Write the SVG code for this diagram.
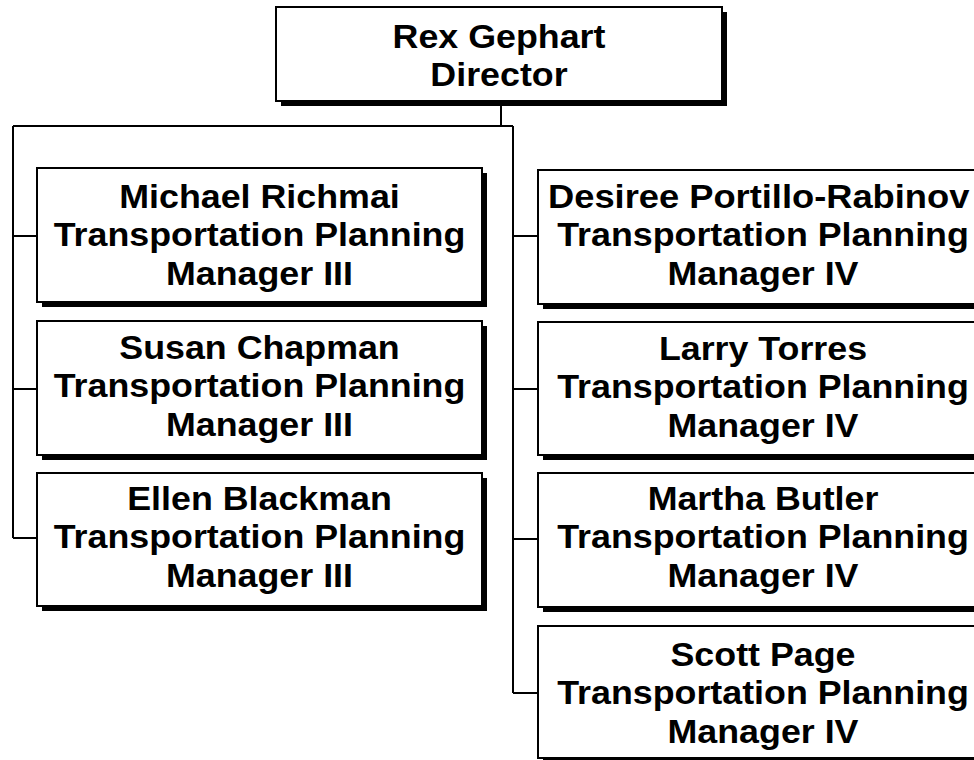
<svg xmlns="http://www.w3.org/2000/svg" width="974" height="760" viewBox="0 0 974 760">
<style>
.sh{fill:#000}
.bx{fill:#fff;stroke:#000;stroke-width:2}
.t{font-family:"Liberation Sans",Arial,sans-serif;font-weight:bold;font-size:33px;fill:#000;text-anchor:middle}
.ts{text-anchor:start}
.cn{fill:none;stroke:#000;stroke-width:2}
</style>
<rect width="974" height="760" fill="#fff"/>
<g id="connectors" class="cn">
<path d="M501 101V126M13 126H513M13 126V538M13 236H37M13 389H37M13 538H37M513 126V693M513 236H538M513 389H538M513 539H538M513 693H538"/>
</g>
<g id="n-rex">
<rect class="sh" x="281" y="12" width="446" height="94"/>
<rect class="bx" x="276" y="7" width="446" height="94"/>
<g transform="translate(499 0) scale(1.085 1)"><text class="t" x="0" y="48">Rex Gephart</text><text class="t" x="0" y="86">Director</text></g>
</g>
<g id="n-michael">
<rect class="sh" x="42" y="173" width="445" height="134"/>
<rect class="bx" x="37" y="168" width="445" height="134"/>
<g transform="translate(259.5 0) scale(1.085 1)"><text class="t" x="0" y="208">Michael Richmai</text><text class="t" x="0" y="246.5">Transportation Planning</text><text class="t" x="0" y="285">Manager III</text></g>
</g>
<g id="n-susan">
<rect class="sh" x="42" y="326" width="445" height="134"/>
<rect class="bx" x="37" y="321" width="445" height="134"/>
<g transform="translate(259.5 0) scale(1.085 1)"><text class="t" x="0" y="359">Susan Chapman</text><text class="t" x="0" y="397.5">Transportation Planning</text><text class="t" x="0" y="436">Manager III</text></g>
</g>
<g id="n-ellen">
<rect class="sh" x="42" y="478" width="445" height="133"/>
<rect class="bx" x="37" y="473" width="445" height="133"/>
<g transform="translate(259.5 0) scale(1.085 1)"><text class="t" x="0" y="510">Ellen Blackman</text><text class="t" x="0" y="548.5">Transportation Planning</text><text class="t" x="0" y="587">Manager III</text></g>
</g>
<g id="n-desiree">
<rect class="sh" x="543" y="175" width="445" height="134"/>
<rect class="bx" x="538" y="170" width="445" height="134"/>
<g transform="translate(548 0) scale(1.1 1)"><text class="t ts" x="0" y="208">Desiree Portillo-Rabinov</text></g>
<g transform="translate(763 0) scale(1.085 1)"><text class="t" x="0" y="246.5">Transportation Planning</text><text class="t" x="0" y="285">Manager IV</text></g>
</g>
<g id="n-larry">
<rect class="sh" x="543" y="327" width="445" height="133"/>
<rect class="bx" x="538" y="322" width="445" height="133"/>
<g transform="translate(763 0) scale(1.085 1)"><text class="t" x="0" y="360">Larry Torres</text><text class="t" x="0" y="398.5">Transportation Planning</text><text class="t" x="0" y="437">Manager IV</text></g>
</g>
<g id="n-martha">
<rect class="sh" x="543" y="478" width="445" height="134"/>
<rect class="bx" x="538" y="473" width="445" height="134"/>
<g transform="translate(763 0) scale(1.085 1)"><text class="t" x="0" y="510">Martha Butler</text><text class="t" x="0" y="548.5">Transportation Planning</text><text class="t" x="0" y="587">Manager IV</text></g>
</g>
<g id="n-scott">
<rect class="sh" x="543" y="631" width="445" height="132"/>
<rect class="bx" x="538" y="626" width="445" height="132"/>
<g transform="translate(763 0) scale(1.085 1)"><text class="t" x="0" y="666">Scott Page</text><text class="t" x="0" y="704.5">Transportation Planning</text><text class="t" x="0" y="743">Manager IV</text></g>
</g>
</svg>
